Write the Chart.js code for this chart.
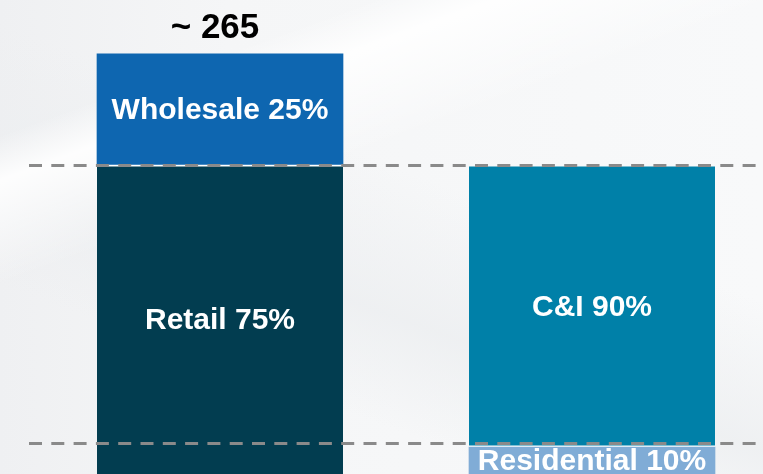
<!DOCTYPE html>
<html>
<head>
<meta charset="utf-8">
<script src="https://cdn.jsdelivr.net/npm/chart.js@4/dist/chart.umd.min.js"></script>
<style>
  html, body { margin: 0; padding: 0; }
  body {
    width: 763px; height: 474px; overflow: hidden;
    background:
      linear-gradient(160deg, rgba(255,255,255,0) 0%, rgba(255,255,255,0) 18%, rgba(255,255,255,0.9) 24%, rgba(255,255,255,0) 38%),
      linear-gradient(200deg, rgba(236,238,240,0.0) 40%, rgba(236,238,240,0.8) 60%, rgba(246,247,248,0) 75%),
      linear-gradient(90deg, #eff0f2 0%, #f5f6f7 30%, #f8f9fa 100%);
  }
  #wrap { position: relative; width: 763px; height: 474px; }
</style>
</head>
<body>
<div id="wrap"><canvas id="c"></canvas></div>
<script>
// ---- data ----
const categories = ['Channel', 'Customer'];
const retailValues = [195, null];
const wholesaleValues = [70, null];
const residentialValues = [null, 17];
const ciValues = [null, 177];
const segmentLabels = ['Retail 75%', 'Wholesale 25%', 'Residential 10%', 'C&I 90%'];
const totalLabels = ['~ 265', ''];
const referenceLines = [195, 19.5];
const yMax = 299;

const colors = ['#023d50', '#0e66b0', '#80acd6', '#0080a8'];

const segLabelPlugin = {
  id: 'segLabels',
  afterDatasetsDraw(chart) {
    const ctx = chart.ctx;
    const y = chart.scales.y;
    // dashed reference lines
    ctx.save();
    ctx.strokeStyle = '#8a8a8a';
    ctx.lineWidth = 3;
    ctx.setLineDash([13, 9.3]);
    referenceLines.forEach(v => {
      const py = Math.round(y.getPixelForValue(v)) + 0.5;
      ctx.beginPath();
      ctx.moveTo(29, py);
      ctx.lineTo(chart.width, py);
      ctx.stroke();
    });
    ctx.restore();
    // segment labels
    ctx.save();
    ctx.fillStyle = '#ffffff';
    ctx.textAlign = 'center';
    ctx.textBaseline = 'middle';
    ctx.font = 'bold 30px "Liberation Sans", Arial, sans-serif';
    chart.data.datasets.forEach((ds, di) => {
      const meta = chart.getDatasetMeta(di);
      meta.data.forEach((bar, i) => {
        if (ds.data[i] == null) return;
        const top = Math.min(bar.y, bar.base);
        const bot = Math.max(bar.y, bar.base);
        ctx.fillText(segmentLabels[di], bar.x, (top + bot) / 2 + 1);
      });
    });
    // totals
    ctx.fillStyle = '#000000';
    ctx.font = 'bold 35px "Liberation Sans", Arial, sans-serif';
    const topMeta = chart.getDatasetMeta(1);
    topMeta.data.forEach((bar, i) => {
      if (!totalLabels[i]) return;
      ctx.fillText(totalLabels[i], bar.x - 5, bar.y - 26);
    });
    ctx.restore();
  }
};

new Chart(document.getElementById('c'), {
  type: 'bar',
  data: {
    labels: categories,
    datasets: [
      { label: 'Retail', data: retailValues, backgroundColor: colors[0], borderColor: '#ffffff', borderWidth: {top: 2, left: 0, right: 0, bottom: 0}, borderSkipped: false },
      { label: 'Wholesale', data: wholesaleValues, backgroundColor: colors[1], borderWidth: 0 },
      { label: 'Residential', data: residentialValues, backgroundColor: colors[2], borderWidth: 0 },
      { label: 'C&I', data: ciValues, backgroundColor: colors[3], borderColor: '#ffffff', borderWidth: {top: 0, left: 0, right: 0, bottom: 2}, borderSkipped: false }
    ]
  },
  options: {
    responsive: true,
    maintainAspectRatio: false,
    animation: false,
    layout: { padding: { left: 220, right: 171, top: 0, bottom: 0 } },
    datasets: { bar: { barThickness: 246, clip: false, skipNull: true } },
    plugins: { legend: { display: false }, tooltip: { enabled: false } },
    scales: {
      x: { type: 'category', offset: false, stacked: true, display: false },
      y: { stacked: true, min: 0, max: yMax, display: false }
    }
  },
  plugins: [segLabelPlugin]
});
</script>
</body>
</html>
